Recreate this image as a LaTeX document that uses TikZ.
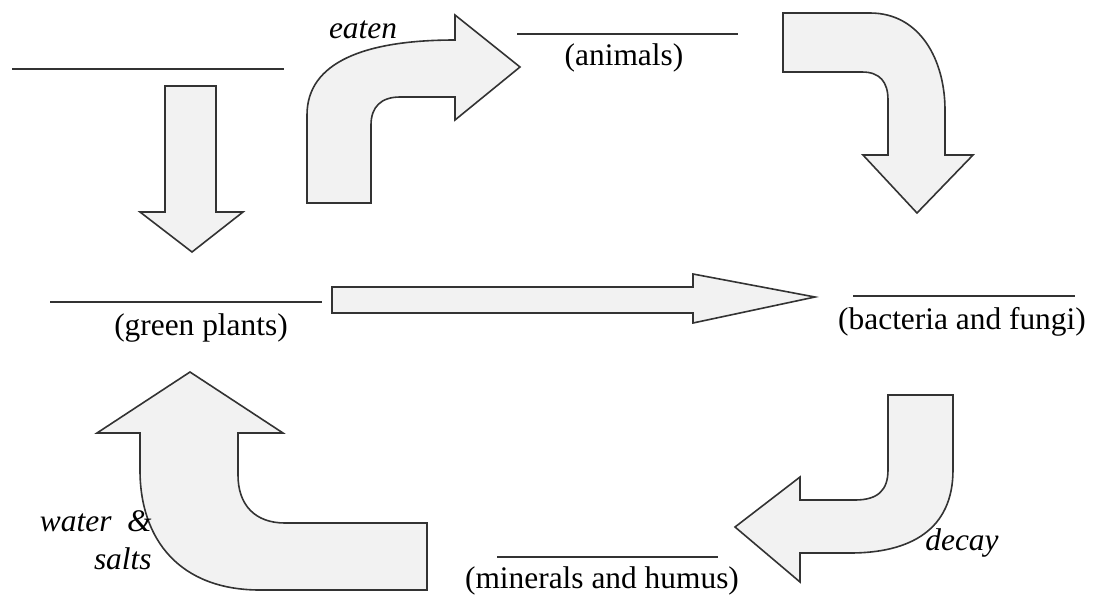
\documentclass[tikz,border=0pt]{standalone}
\usepackage{fontspec}
\setmainfont{Liberation Serif}
\usetikzlibrary{positioning}

\tikzset{
  flow/.style={draw=black!80, fill=black!5, line width=0.8pt, line join=miter},  % block arrows
  blank/.style={draw=black!80, line width=0.8pt},  % lines to write on
  organism/.style={font=\fontsize{15.7}{19}\selectfont, inner sep=0pt},
  process/.style={font=\fontsize{15.7}{19}\selectfont\itshape, inner sep=0pt, align=right}
}

\begin{document}
\begin{tikzpicture}[x=0.5pt, y=-0.5pt]  % one unit is one pixel of the reference
    \useasboundingbox (0,0) rectangle (1094,596);  % keeps the margins

    % blank lines and their labels
    \draw[blank] (12,69) -- (284,69);
    \draw[blank] (517,34) -- (738,34);
    \node[organism] (animals) at (624,58) {(animals)};
    \draw[blank] (50,302) -- (322,302);
    \node[organism] (plants) at (201,328) {(green plants)};
    \draw[blank] (853,296) -- (1075,296);
    \node[organism] (decomposers) at (962,322) {(bacteria and fungi)};
    \draw[blank] (497,557) -- (718,557);
    \node[organism] (minerals) at (602,581) {(minerals and humus)};

    % straight arrows
    \draw[flow] (165,86) -- (216,86) -- (216,212) -- (243,212) -- (192,252)
        -- (140,212) -- (165,212) -- cycle;
    \draw[flow] (332,287) -- (693,287) -- (693,274) -- (815,297) -- (693,323)
        -- (693,313) -- (332,313) -- cycle;

    % bent arrows
    \draw[flow] (307,203) -- (307,115) .. controls (307,62) and (365,40) .. (455,40)
        -- (455,15) -- (520,67) -- (455,120) -- (455,97) -- (400,97)
        .. controls (381,97) and (371,107) .. (371,125) -- (371,203) -- cycle;
    \draw[flow] (783,13) -- (870,13) .. controls (920,13) and (945,60) .. (945,110)
        -- (945,155) -- (973,155) -- (917,213) -- (863,155) -- (888,155) -- (888,100)
        .. controls (888,82) and (880,72) .. (862,72) -- (783,72) -- cycle;
    \draw[flow] (888,395) -- (953,395) -- (953,470) .. controls (953,530) and (910,553) .. (850,553)
        -- (800,553) -- (800,582) -- (735,527) -- (800,477) -- (800,500) -- (855,500)
        .. controls (878,500) and (888,490) .. (888,470) -- cycle;
    \draw[flow] (190,372) -- (283,433) -- (238,433) -- (238,475)
        .. controls (238,505) and (255,523) .. (285,523) -- (427,523) -- (427,590)
        -- (260,590) .. controls (180,590) and (140,540) .. (140,470) -- (140,433)
        -- (97,433) -- cycle;

    % what happens along the way
    \node[process] (eaten) at (363,30) {eaten};
    \node[process] (decay) at (962,543) {decay};
    \node[process, anchor=east] (water) at (152,540) {water\enspace\&\\salts};
\end{tikzpicture}
\end{document}
